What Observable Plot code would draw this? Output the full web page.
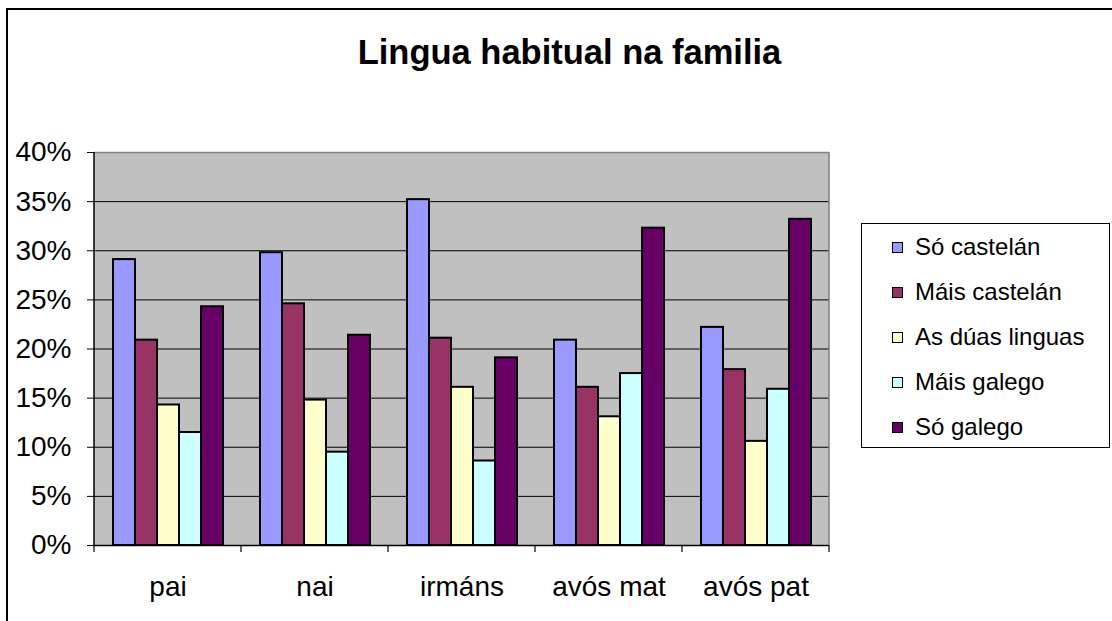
<!DOCTYPE html>
<html>
<head>
<meta charset="utf-8">
<script src="https://cdn.jsdelivr.net/npm/d3@7"></script>
<script src="https://cdn.jsdelivr.net/npm/@observablehq/plot@0.6"></script>
<style>
  html, body { margin: 0; padding: 0; background: #fff; }
  body { font-family: "Liberation Sans", Arial, sans-serif; }
  #wrap { position: relative; width: 1112px; height: 621px; overflow: hidden; background: #fff; }
  #border { position: absolute; left: 6px; top: 8px; width: 1300px; height: 800px;
            border-left: 2px solid #000; border-top: 2px solid #000; box-sizing: border-box; }
  #title { position: absolute; left: 0; top: 35px; width: 1139px; text-align: center;
           font-weight: bold; font-size: 34.5px; line-height: 34px; color: #000; }
  #chart { position: absolute; left: 0; top: 0; }
  #legend { position: absolute; left: 861px; top: 223px; width: 249px; height: 225px;
            border: 1px solid #000; box-sizing: border-box; background: #fff; }
  .row { position: absolute; left: 0; height: 30px; width: 100%; }
  .sw { position: absolute; left: 30px; top: 10px; width: 9px; height: 9px; border: 1px solid #000; }
  .lab { position: absolute; left: 53px; top: 0; font-size: 24px; line-height: 30px; color: #000; white-space: nowrap; }
</style>
</head>
<body>
<div id="wrap">
  <div id="border"></div>
  <div id="chart"></div>
  <div id="title"></div>
  <div id="legend"></div>
</div>
<script>
const title = "Lingua habitual na familia";
const categories = ["pai", "nai", "irmáns", "avós mat", "avós pat"];
const series = ["Só castelán", "Máis castelán", "As dúas linguas", "Máis galego", "Só galego"];
const colors = ["#9999ff", "#993366", "#ffffcc", "#ccffff", "#660066"];
const soCastelan   = [29.1, 29.8, 35.2, 20.9, 22.2];
const maisCastelan = [20.9, 24.6, 21.1, 16.1, 17.9];
const duasLinguas  = [14.3, 14.8, 16.1, 13.1, 10.6];
const maisGalego   = [11.5,  9.5,  8.6, 17.5, 15.9];
const soGalego     = [24.3, 21.4, 19.1, 32.3, 33.2];
const yTicks = [0, 5, 10, 15, 20, 25, 30, 35, 40];

const valuesBySeries = [soCastelan, maisCastelan, duasLinguas, maisGalego, soGalego];
const data = [];
categories.forEach((c, i) => {
  series.forEach((s, j) => data.push({cat: c, series: s, value: valuesBySeries[j][i]}));
});

document.getElementById("title").textContent = title;

const chart = Plot.plot({
  width: 1112,
  height: 621,
  marginLeft: 94,
  marginRight: 283,
  marginTop: 152,
  marginBottom: 76,
  style: {fontFamily: '"Liberation Sans", Arial, sans-serif', fontSize: "28px", color: "#000", background: "transparent", overflow: "visible"},
  fx: {domain: categories, padding: 0, label: null, axis: "bottom", tickSize: 0, tickPadding: 31},
  x: {domain: series, paddingInner: 0, paddingOuter: 0.72, axis: null},
  y: {domain: [0, 40], ticks: yTicks, tickFormat: d => d + "%", tickSize: 7, tickPadding: 16, label: null},
  color: {domain: series, range: colors},
  marks: [
    Plot.ruleY(yTicks.filter(d => d > 0 && d < 40), {stroke: "#000", strokeWidth: 1}),
    Plot.ruleY([40], {stroke: "#808080", strokeWidth: 1.5}),
    Plot.barY(data, {fx: "cat", x: "series", y: "value", fill: "series", stroke: "#000", strokeWidth: 2, inset: 0}),
    Plot.ruleY([0], {stroke: "#000", strokeWidth: 1.5})
  ]
});
document.getElementById("chart").appendChild(chart);

// background, axis line, right border and boundary ticks from the library's scales
try {
  const fx = chart.scale("fx");
  const y = chart.scale("y");
  const svgEl = chart.tagName.toLowerCase() === "svg" ? chart : chart.querySelector("svg");
  const svg = d3.select(svgEl);
  const bw = fx.bandwidth;
  const x0 = fx.apply(categories[0]);
  const x1 = fx.apply(categories[categories.length - 1]) + bw;
  const yTop = y.apply(40), yBot = y.apply(0);
  svg.insert("rect", ":first-child")
    .attr("x", x0).attr("y", yTop).attr("width", x1 - x0).attr("height", yBot - yTop)
    .attr("fill", "#c0c0c0");
  const g = svg.append("g");
  g.append("line").attr("x1", x1).attr("x2", x1).attr("y1", yTop).attr("y2", yBot)
    .attr("stroke", "#808080").attr("stroke-width", 1.5);
  g.append("line").attr("x1", x0).attr("x2", x0).attr("y1", yTop).attr("y2", yBot)
    .attr("stroke", "#000").attr("stroke-width", 1.5);
  const bounds = categories.map(c => fx.apply(c)).concat([x1]);
  bounds.forEach(b => {
    g.append("line").attr("x1", b).attr("x2", b).attr("y1", yBot).attr("y2", yBot + 7)
      .attr("stroke", "#000").attr("stroke-width", 1.2);
  });
} catch (e) { console.error(e); }

// legend
const legend = document.getElementById("legend");
series.forEach((s, i) => {
  const row = document.createElement("div");
  row.className = "row";
  row.style.top = (8 + i * 45) + "px";
  const sw = document.createElement("div");
  sw.className = "sw";
  sw.style.background = colors[i];
  const lab = document.createElement("div");
  lab.className = "lab";
  lab.textContent = s;
  row.appendChild(sw);
  row.appendChild(lab);
  legend.appendChild(row);
});
</script>
</body>
</html>
